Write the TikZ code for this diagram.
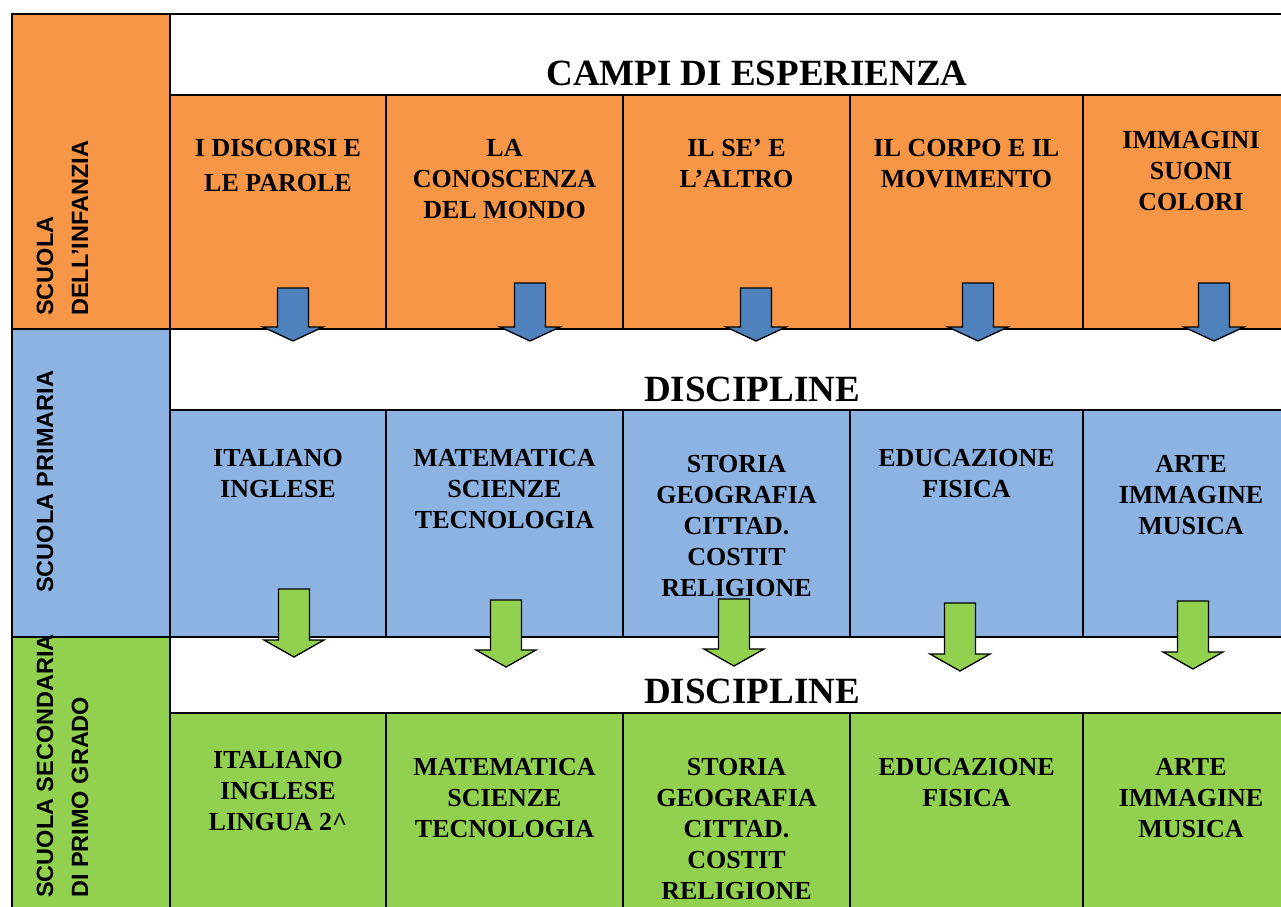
\documentclass[tikz,border=0pt]{standalone}
\usepackage{fontspec}
\setmainfont{Liberation Serif}
\setsansfont{Liberation Sans}
\usepackage{xcolor}
\definecolor{orangerow}{HTML}{F79646}
\definecolor{bluerow}{HTML}{8DB3E2}
\definecolor{greenrow}{HTML}{92D050}
\definecolor{bluearrow}{HTML}{4F81BD}
\newcommand{\blockarrow}[5]{% x, top, head base, tip, colour
\filldraw[fill=#5,draw=black,line width=1.3pt,line join=miter]
 (#1-15.5,#2)--(#1+15.5,#2)--(#1+15.5,#3)--(#1+30,#3)--(#1,#4)
 --(#1-30,#3)--(#1-15.5,#3)--cycle;}
\tikzset{
 cell/.style={anchor=north,align=center,inner sep=0pt,
  font=\bfseries\fontsize{26}{31}\selectfont},
 header/.style={anchor=base,inner sep=0pt,font=\bfseries\fontsize{37}{40}\selectfont},
 rowlabel/.style={anchor=north west,align=left,inner sep=0pt,rotate=90,
  font=\sffamily\bfseries\fontsize{23.5}{35}\selectfont}
}
\begin{document}
\begin{tikzpicture}[x=1pt,y=-1pt]
\useasboundingbox(0,0)rectangle(1281,906);
\clip(0,0)rectangle(1281,906);
% rows
\fill[white](0,0)rectangle(1281,906);
\fill[orangerow](12,14)rectangle(170,329);
\fill[orangerow](170,95)rectangle(1300,329);
\fill[bluerow](12,329)rectangle(170,637);
\fill[bluerow](170,410)rectangle(1300,637);
\fill[greenrow](12,637)rectangle(170,920);
\fill[greenrow](170,713)rectangle(1300,920);
% grid
\begin{scope}[line width=1.2pt]
\draw(12,920)--(12,14)--(1300,14);
\draw(170,14)--(170,920);
\draw(170,95)--(1300,95);
\draw(12,329)--(1300,329);
\draw(170,410)--(1300,410);
\draw(12,637)--(1300,637);
\draw(170,713)--(1300,713);
\foreach \x in {386,623,850,1083}{
 \draw(\x,95)--(\x,329);
 \draw(\x,410)--(\x,637);
 \draw(\x,713)--(\x,920);
}
\end{scope}
% school levels
\node[rowlabel](infanzia)at(36.5,316){SCUOLA\\DELL’INFANZIA};
\node[rowlabel](primaria)at(36.5,593){SCUOLA PRIMARIA};
\node[rowlabel](secondaria)at(36.5,898){SCUOLA SECONDARIA\\DI PRIMO GRADO};
% headers
\node[header](campi)at(757,85){CAMPI DI ESPERIENZA};
\node[header](disc1)at(752,401){DISCIPLINE};
\node[header](disc2)at(752,703){DISCIPLINE};
% campi di esperienza
\node[cell](discorsi)at(278,139.5){I DISCORSI E\\[4pt]LE PAROLE};
\node[cell](conoscenza)at(504.5,139.5){LA\\CONOSCENZA\\DEL MONDO};
\node[cell](se)at(736.5,139.5){IL SE’ E\\L’ALTRO};
\node[cell](corpo)at(966.5,139.5){IL CORPO E IL\\MOVIMENTO};
\node[cell](immagini)at(1191,131.5){IMMAGINI\\SUONI\\COLORI};
% primaria
\node[cell](ital1)at(278,449.5){ITALIANO\\INGLESE};
\node[cell](mat1)at(504.5,449.5){MATEMATICA\\SCIENZE\\TECNOLOGIA};
\node[cell](sto1)at(736.5,455.5){STORIA\\GEOGRAFIA\\CITTAD.\\COSTIT\\RELIGIONE};
\node[cell](edu1)at(966.5,449.5){EDUCAZIONE\\FISICA};
\node[cell](arte1)at(1191,455.5){ARTE\\IMMAGINE\\MUSICA};
% secondaria
\node[cell](ital2)at(278,751.5){ITALIANO\\INGLESE\\LINGUA 2\^{}};
\node[cell](mat2)at(504.5,758.5){MATEMATICA\\SCIENZE\\TECNOLOGIA};
\node[cell](sto2)at(736.5,758.5){STORIA\\GEOGRAFIA\\CITTAD.\\COSTIT\\RELIGIONE};
\node[cell](edu2)at(966.5,758.5){EDUCAZIONE\\FISICA};
\node[cell](arte2)at(1191,758.5){ARTE\\IMMAGINE\\MUSICA};
% arrows
\blockarrow{293}{288}{327}{341}{bluearrow}
\blockarrow{530}{283}{327}{341}{bluearrow}
\blockarrow{756}{288}{327}{341}{bluearrow}
\blockarrow{978}{283}{327}{341}{bluearrow}
\blockarrow{1214}{283}{327}{341}{bluearrow}
\blockarrow{294}{589}{640}{657}{greenrow}
\blockarrow{506}{600}{650}{667}{greenrow}
\blockarrow{734}{599}{649}{666}{greenrow}
\blockarrow{960}{603}{654}{671}{greenrow}
\blockarrow{1193}{601}{652}{669}{greenrow}
\end{tikzpicture}
\end{document}
